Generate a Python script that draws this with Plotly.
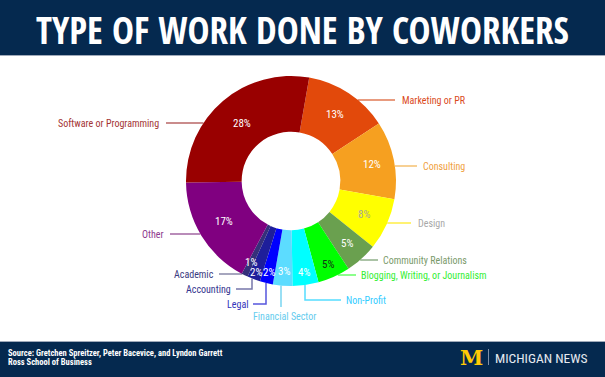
import math
import plotly.graph_objects as go

# ---------------- data ----------------
categories = ["Marketing or PR", "Consulting", "Design", "Community Relations",
              "Blogging, Writing, or Journalism", "Non-Profit", "Financial Sector",
              "Legal", "Accounting", "Academic", "Other", "Software or Programming"]
shares = [13, 12, 8, 5, 5, 4, 3, 2, 2, 1, 17, 28]

title_text = "TYPE OF WORK DONE BY COWORKERS"
source_lines = ["Source: Gretchen Spreitzer, Peter Bacevice, and Lyndon Garrett",
                "Ross School of Business"]
brand_text = "MICHIGAN NEWS"

# ---------------- styles / layout ----------------
W, H = 605, 377
CX, CY, R = 291, 181, 105
HOLE = 0.47
ROT = 10
NAVY = "#05294F"
COND = "Roboto Condensed, DejaVu Sans, sans-serif"
TITLE_FONT = "Open Sans Condensed, Roboto Condensed, sans-serif"

slice_colors = ["#E2490B", "#F6A020", "#FFFF00", "#6AA04F", "#00FF00", "#00FFFF",
                "#5CDCFF", "#0000FF", "#1E1E9A", "#35307A", "#800080", "#990000"]
pct_colors = ["white", "white", "#A8A89A", "white", "#143214", "white",
              "white", "white", "white", "white", "white", "white"]
pct_radius = [80, 83, 80, 84, 91, 92, 91, 94, 98, 91, 78, 76]
label_colors = ["#DA4A1C", "#F0A03E", "#A8A8A8", "#7A9A6A", "#33EE33", "#33CCFF",
                "#66CCEE", "#3333BB", "#34348E", "#3A3A80", "#8E3A8E", "#A33434"]
line_colors = ["#E07A55", "#F5C070", "#FFEE44", "#8FAF88", "#66FF66", "#55DDFF",
               "#77D4F0", "#5555DD", "#7777AA", "#8888A8", "#A266A2", "#B86666"]
# leader specs: kind, anchor coordinate, line end, text position, text anchor
leaders = [
    dict(kind="h", y=100, x1=395, tx=400, ty=100, anchor="left"),
    dict(kind="h", y=166, x1=417, tx=421, ty=166, anchor="left"),
    dict(kind="h", y=223, x1=411, tx=416, ty=223, anchor="left"),
    dict(kind="h", y=260, x1=378, tx=381, ty=260, anchor="left"),
    dict(kind="h", y=275, x1=356, tx=359, ty=275, anchor="left"),
    dict(kind="v", x=305, y1=300, x1=341, tx=344, ty=300, anchor="left"),
    dict(kind="v", x=281, y1=307, x1=None, tx=284, ty=316, anchor="center"),
    dict(kind="v", x=266, y1=304, x1=253, tx=250, ty=304, anchor="right"),
    dict(kind="v", x=252, y1=289, x1=236, tx=233, ty=289, anchor="right"),
    dict(kind="h", y=274, x1=219, tx=216, ty=274, anchor="right"),
    dict(kind="h", y=234, x1=170, tx=166, ty=234, anchor="right"),
    dict(kind="h", y=123, x1=166, tx=161, ty=123, anchor="right"),
]

fig = go.Figure()

fig.add_trace(go.Pie(
    labels=categories, values=shares, sort=False, direction="clockwise",
    rotation=ROT, hole=HOLE, textinfo="none", textposition="none",
    marker=dict(colors=slice_colors, line=dict(width=0)),
    domain=dict(x=[(CX - R) / W, (CX + R) / W], y=[1 - (CY + R) / H, 1 - (CY - R) / H]),
    showlegend=False, hoverinfo="label+percent",
))

annotations = []
total = sum(shares)
cum = 0
for i, (cat, v) in enumerate(zip(categories, shares)):
    mid = ROT + (cum + v / 2) / total * 360
    cum += v
    th = math.radians(mid)
    r = pct_radius[i]
    annotations.append(dict(x=CX + r * math.sin(th), y=CY - r * math.cos(th),
                            xref="x", yref="y", text=f"{v}%", showarrow=False,
                            borderpad=0,
                            font=dict(family=COND, size=11, color=pct_colors[i])))
    sp = leaders[i]
    if sp["kind"] == "h":
        dy = sp["y"] - CY
        dx = math.sqrt(max(R * R - dy * dy, 0))
        x0 = CX + dx if sp["x1"] > CX else CX - dx
        xs, ys = [x0, sp["x1"]], [sp["y"], sp["y"]]
    else:
        dx = sp["x"] - CX
        y0 = CY + math.sqrt(max(R * R - dx * dx, 0))
        xs, ys = [sp["x"], sp["x"]], [y0, sp["y1"]]
        if sp["x1"] is not None:
            xs.append(sp["x1"])
            ys.append(sp["y1"])
    fig.add_trace(go.Scatter(x=xs, y=ys, mode="lines", hoverinfo="skip",
                             line=dict(color=line_colors[i], width=1.5),
                             showlegend=False))
    annotations.append(dict(x=sp["tx"], y=sp["ty"], xref="x", yref="y", text=cat,
                            showarrow=False, xanchor=sp["anchor"], yanchor="middle",
                            font=dict(family=COND, size=10, color=label_colors[i])))

# header / footer
shapes = [
    dict(type="rect", xref="x", yref="y", x0=0, x1=W, y0=0, y1=55, fillcolor=NAVY,
         line=dict(width=0), layer="below"),
    dict(type="line", xref="x", yref="y", x0=0, x1=W, y0=55.5, y1=55.5,
         line=dict(color="#A0AABA", width=1)),
    dict(type="rect", xref="x", yref="y", x0=0, x1=W, y0=342, y1=H, fillcolor=NAVY,
         line=dict(width=0), layer="below"),
    dict(type="line", xref="x", yref="y", x0=0, x1=W, y0=341.5, y1=341.5,
         line=dict(color="#A0AABA", width=1)),
    dict(type="line", xref="x", yref="y", x0=488.5, x1=488.5, y0=349, y1=365,
         line=dict(color="#8090A8", width=1)),
]

annotations += [
    dict(x=W / 2, y=29, xref="x", yref="y", text=f"<b>{title_text}</b>", showarrow=False,
         font=dict(family=TITLE_FONT, size=37, color="white")),
    dict(x=6, y=352.5, xref="x", yref="y", text=f"<b>{source_lines[0]}</b>", showarrow=False,
         xanchor="left", font=dict(family=COND, size=8.5, color="white")),
    dict(x=6, y=362, xref="x", yref="y", text=f"<b>{source_lines[1]}</b>", showarrow=False,
         xanchor="left", font=dict(family=COND, size=8.5, color="white")),
    dict(x=471, y=357.5, xref="x", yref="y", text="<b>M</b>", showarrow=False,
         font=dict(family="DejaVu Serif, serif", size=21, color="#FFCB05")),
    dict(x=493, y=357.5, xref="x", yref="y", text=brand_text, showarrow=False,
         xanchor="left", font=dict(family=COND, size=13.5, color="#E6EAF0")),
]

fig.update_layout(
    width=W, height=H, margin=dict(l=0, r=0, t=0, b=0),
    paper_bgcolor="white", plot_bgcolor="rgba(0,0,0,0)",
    xaxis=dict(range=[0, W], visible=False, domain=[0, 1], fixedrange=True),
    yaxis=dict(range=[H, 0], visible=False, domain=[0, 1], fixedrange=True),
    shapes=shapes, annotations=annotations, showlegend=False,
)

fig.write_html("out.html", config=dict(displayModeBar=False),
               post_script="document.body.style.margin='0';")
